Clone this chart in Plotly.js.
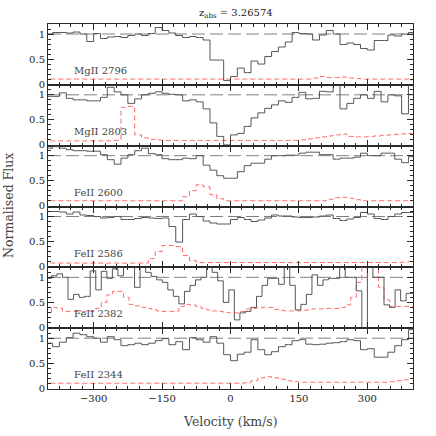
<!DOCTYPE html>
<html>
<head>
<meta charset="utf-8">
<script src="https://cdn.plot.ly/plotly-3.0.1.min.js"></script>
<style>html,body{margin:0;padding:0;background:#fff;}#chart{width:436px;height:436px;}</style>
</head>
<body>
<div id="chart"></div>
<script>
// Velocity bin centres (km/s) for the 15 km/s grid
const velocity = [-412.5,-397.5,-382.5,-367.5,-352.5,-337.5,-322.5,-307.5,-292.5,-277.5,-262.5,-247.5,-232.5,-217.5,-202.5,-187.5,-172.5,-157.5,-142.5,-127.5,-112.5,-97.5,-82.5,-67.5,-52.5,-37.5,-22.5,-7.5,7.5,22.5,37.5,52.5,67.5,82.5,97.5,112.5,127.5,142.5,157.5,172.5,187.5,202.5,217.5,232.5,247.5,262.5,277.5,292.5,307.5,322.5,337.5,352.5,367.5,382.5,397.5,412.5];
// Velocity bin centres for FeII 2382 (finer pixels)
const velocity2382 = [-410.8,-398.6,-386.5,-374.3,-362.2,-350.0,-337.9,-325.7,-313.6,-301.4,-289.3,-277.1,-265.0,-252.8,-240.7,-228.5,-216.4,-204.2,-192.1,-179.9,-167.8,-155.6,-143.5,-131.3,-119.2,-107.0,-94.9,-82.7,-70.6,-58.4,-46.3,-34.1,-22.0,-9.8,2.3,14.5,26.6,38.8,50.9,63.1,75.2,87.4,99.5,111.7,123.8,136.0,148.1,160.3,172.4,184.6,196.7,208.9,221.0,233.2,245.3,257.5,269.6,281.8,293.9,306.1,318.2,330.4,342.5,354.7,366.8,379.0,391.1,403.3,415.4];

const transitions = ['MgII 2796','MgII 2803','FeII 2600','FeII 2586','FeII 2382','FeII 2344'];

const fluxMgII2796 = [1.0,1.0,1.03,1.03,1.02,1.04,1.0,0.85,1.01,0.91,0.94,0.95,0.93,0.97,1.0,0.97,1.01,1.13,1.07,1.02,0.97,0.93,0.95,0.93,0.88,0.48,0.48,0.07,0.15,0.32,0.23,0.46,0.40,0.55,0.65,0.74,0.84,1.03,1.01,1.0,0.88,0.98,1.07,1.0,0.79,0.82,0.79,0.71,0.68,0.87,0.87,0.98,0.96,1.0,1.03,1.03];
const errMgII2796 = [0.1,0.1,0.1,0.1,0.1,0.1,0.1,0.1,0.1,0.1,0.1,0.1,0.1,0.1,0.1,0.1,0.1,0.1,0.1,0.1,0.1,0.1,0.1,0.1,0.1,0.1,0.1,0.1,0.1,0.1,0.1,0.1,0.1,0.1,0.1,0.1,0.1,0.1,0.1,0.1,0.12,0.15,0.13,0.13,0.14,0.12,0.11,0.1,0.1,0.1,0.1,0.1,0.1,0.1,0.1,0.1];

const fluxMgII2803 = [0.97,0.97,0.97,1.04,0.93,0.9,0.9,0.88,0.88,0.95,1.15,1.06,1.0,0.83,0.92,1.0,1.03,1.06,1.03,1.01,1.0,0.88,0.9,0.86,0.72,0.44,0.17,0.0,0.2,0.23,0.37,0.54,0.64,0.73,0.8,0.88,0.85,0.95,1.05,0.92,0.93,1.07,1.06,1.25,0.72,0.83,0.93,1.0,0.93,1.07,0.86,1.0,0.98,0.62,1.25,1.0];
const errMgII2803 = [0.08,0.08,0.08,0.08,0.08,0.08,0.08,0.08,0.08,0.08,0.08,0.09,0.75,0.77,0.2,0.14,0.11,0.1,0.09,0.09,0.09,0.09,0.09,0.09,0.09,0.09,0.09,0.09,0.09,0.09,0.09,0.09,0.09,0.09,0.09,0.09,0.09,0.09,0.1,0.12,0.14,0.16,0.18,0.2,0.22,0.17,0.16,0.16,0.17,0.18,0.19,0.2,0.21,0.22,0.23,0.23];

const fluxFeII2600 = [1.11,1.15,1.18,1.15,1.12,1.1,1.1,1.09,1.09,1.02,0.92,0.83,0.95,1.02,1.1,1.15,1.04,1.02,0.94,0.92,0.92,0.95,0.94,1.0,0.81,0.71,0.6,0.55,0.55,0.68,0.8,0.85,0.85,0.93,1.0,1.0,1.01,1.01,1.05,1.07,1.07,1.02,1.02,0.93,0.95,0.95,0.97,1.05,1.0,1.0,1.05,1.05,0.93,0.86,0.98,0.98];
const errFeII2600 = [0.1,0.1,0.1,0.1,0.1,0.1,0.1,0.1,0.1,0.1,0.1,0.1,0.1,0.1,0.1,0.1,0.1,0.1,0.1,0.1,0.1,0.18,0.3,0.42,0.38,0.22,0.14,0.1,0.1,0.1,0.1,0.1,0.1,0.1,0.1,0.1,0.1,0.1,0.1,0.1,0.1,0.1,0.13,0.16,0.17,0.15,0.12,0.1,0.1,0.1,0.1,0.1,0.1,0.1,0.1,0.1];

const fluxFeII2586 = [1.1,1.1,1.1,1.09,1.05,1.09,1.03,1.02,1.0,0.97,0.98,1.0,0.94,0.94,0.96,0.98,0.97,0.96,0.97,0.8,0.49,0.94,1.05,1.0,0.91,0.87,0.85,0.85,0.94,0.98,0.94,0.9,0.93,0.97,1.03,1.01,1.01,0.99,0.98,0.98,0.99,1.01,1.03,0.96,0.92,0.95,0.98,1.08,1.05,0.96,0.94,1.0,1.05,1.08,1.08,1.08];
const errFeII2586 = [0.07,0.07,0.07,0.07,0.07,0.07,0.07,0.07,0.07,0.07,0.07,0.07,0.07,0.07,0.07,0.07,0.16,0.3,0.42,0.42,0.4,0.22,0.12,0.08,0.08,0.08,0.08,0.08,0.08,0.08,0.08,0.08,0.08,0.08,0.08,0.08,0.08,0.08,0.08,0.08,0.08,0.08,0.08,0.08,0.08,0.08,0.08,0.08,0.08,0.08,0.08,0.08,0.08,0.09,0.1,0.1];

const fluxFeII2382 = [0.98,0.98,1.03,1.07,1.0,0.56,0.66,0.6,0.62,1.13,0.75,1.12,0.98,1.17,1.03,1.25,1.25,0.8,1.25,1.1,1.02,0.95,0.9,0.75,0.62,0.47,0.72,0.84,0.95,1.0,1.25,1.1,0.93,0.5,0.75,0.15,0.29,0.32,0.4,0.62,0.84,0.98,0.98,0.86,1.25,0.84,0.35,0.46,0.66,1.05,0.84,0.95,0.98,0.98,1.25,1.0,1.0,0.73,-0.05,1.25,1.0,1.0,0.45,0.4,0.75,0.53,0.68,0.68,0.68];
const errFeII2382 = [0.29,0.3,0.4,0.38,0.32,0.32,0.32,0.32,0.32,0.32,0.38,0.5,0.65,0.72,0.72,0.6,0.46,0.43,0.4,0.38,0.36,0.33,0.32,0.32,0.32,0.42,0.46,0.45,0.42,0.38,0.35,0.33,0.32,0.3,0.29,0.29,0.32,0.37,0.38,0.39,0.4,0.4,0.36,0.34,0.33,0.33,0.33,0.34,0.35,0.37,0.37,0.38,0.38,0.38,0.4,0.45,0.6,0.9,1.3,1.3,1.3,0.8,0.55,0.42,0.42,0.42,0.42,0.42,0.42];

const fluxFeII2344 = [0.9,0.9,0.83,0.92,1.01,1.1,1.07,1.03,1.0,0.92,1.03,0.97,0.85,0.87,0.9,0.87,0.9,0.95,0.99,0.87,0.93,0.77,1.01,0.97,0.92,1.03,0.9,0.67,0.55,0.68,0.72,0.97,0.77,0.67,0.73,0.83,0.87,0.95,0.97,0.88,0.87,0.88,0.9,0.91,0.93,0.97,0.95,0.77,0.79,0.62,0.62,0.72,0.85,0.97,1.17,1.17];
const errFeII2344 = [0.1,0.1,0.1,0.1,0.1,0.1,0.1,0.1,0.1,0.1,0.1,0.1,0.1,0.1,0.1,0.1,0.1,0.1,0.1,0.1,0.1,0.1,0.1,0.1,0.1,0.1,0.1,0.1,0.1,0.1,0.11,0.15,0.21,0.23,0.21,0.18,0.15,0.13,0.12,0.12,0.12,0.12,0.12,0.12,0.12,0.12,0.12,0.12,0.12,0.12,0.12,0.13,0.15,0.17,0.2,0.2];

const continuumV = [-400, 400];
const continuumF = [1, 1];
const xTickStep = 150;
const titleText = 'z<sub>abs</sub> = 3.26574';

const panels = [
  {name: transitions[0], v: velocity, f: fluxMgII2796, e: errMgII2796},
  {name: transitions[1], v: velocity, f: fluxMgII2803, e: errMgII2803},
  {name: transitions[2], v: velocity, f: fluxFeII2600, e: errFeII2600},
  {name: transitions[3], v: velocity, f: fluxFeII2586, e: errFeII2586},
  {name: transitions[4], v: velocity2382, f: fluxFeII2382, e: errFeII2382},
  {name: transitions[5], v: velocity, f: fluxFeII2344, e: errFeII2344}
];

const FONT = 'DejaVu Serif';
const AX = '#2a2a2a';
const traces = [];
const layout = {
  width: 436, height: 436,
  margin: {l: 48, r: 23, t: 24, b: 47},
  paper_bgcolor: '#fff', plot_bgcolor: '#fff',
  showlegend: false,
  font: {family: FONT, size: 10, color: '#222'},
  annotations: [],
};
const n = panels.length;
panels.forEach((p, i) => {
  const s = i === 0 ? '' : String(i + 1);
  const xa = 'x' + s, ya = 'y' + s;
  const top = 1 - i / n, bot = 1 - (i + 1) / n;
  traces.push({x: continuumV, y: continuumF, xaxis: xa, yaxis: ya, mode: 'lines',
    line: {color: '#808080', width: 1, dash: '13px,5px'}, hoverinfo: 'skip'});
  traces.push({x: p.v, y: p.e, xaxis: xa, yaxis: ya, mode: 'lines',
    line: {color: '#ff6a6a', width: 1, dash: '5px,3px', shape: 'hvh'}, hoverinfo: 'skip'});
  traces.push({x: p.v, y: p.f, xaxis: xa, yaxis: ya, mode: 'lines',
    line: {color: '#555555', width: 1, shape: 'hvh'}, hoverinfo: 'skip'});
  layout['xaxis' + s] = {
    domain: [0, 1], anchor: ya, range: [-400, 400],
    tickmode: 'linear', tick0: 0, dtick: xTickStep,
    ticks: 'inside', ticklen: 6, tickwidth: 1, tickcolor: AX,
    minor: {dtick: 25, tick0: 0, ticks: 'inside', ticklen: 3, tickwidth: 1, tickcolor: AX},
    showline: true, linecolor: AX, linewidth: 1, mirror: 'ticks',
    showgrid: false, zeroline: false, showticklabels: i === n - 1,
    tickfont: {family: FONT, size: 10, color: '#222'}
  };
  layout['yaxis' + s] = {
    domain: [bot, top], anchor: xa, range: [-0.015, 1.2],
    tickmode: 'linear', tick0: 0, dtick: 0.5,
    ticks: 'inside', ticklen: 6, tickwidth: 1, tickcolor: AX,
    minor: {dtick: 0.1, tick0: 0, ticks: 'inside', ticklen: 3, tickwidth: 1, tickcolor: AX},
    showline: true, linecolor: AX, linewidth: 1, mirror: 'ticks',
    showgrid: false, zeroline: false,
    tickfont: {family: FONT, size: 10, color: '#222'}
  };
  layout.annotations.push({xref: xa, yref: ya, x: -347, y: 0.27, xanchor: 'left', yanchor: 'middle',
    text: p.name, showarrow: false, font: {family: FONT, size: 10, color: '#444'}});
});
layout.annotations.push({xref: 'paper', yref: 'paper', x: 0.5, y: -0.088, xanchor: 'center', yanchor: 'middle',
  text: 'Velocity (km/s)', showarrow: false, font: {family: FONT, size: 12.5, color: '#444'}});
layout.annotations.push({xref: 'paper', yref: 'paper', x: -0.11, y: 0.504, xanchor: 'center', yanchor: 'middle',
  textangle: -90, text: 'Normalised Flux', showarrow: false, font: {family: FONT, size: 12.5, color: '#444'}});
layout.annotations.push({xref: 'paper', yref: 'paper', x: 0.515, y: 1.03, xanchor: 'center', yanchor: 'middle',
  text: titleText, showarrow: false, font: {family: FONT, size: 10, color: '#222'}});

Plotly.newPlot('chart', traces, layout, {staticPlot: true, displayModeBar: false});
</script>
</body>
</html>
